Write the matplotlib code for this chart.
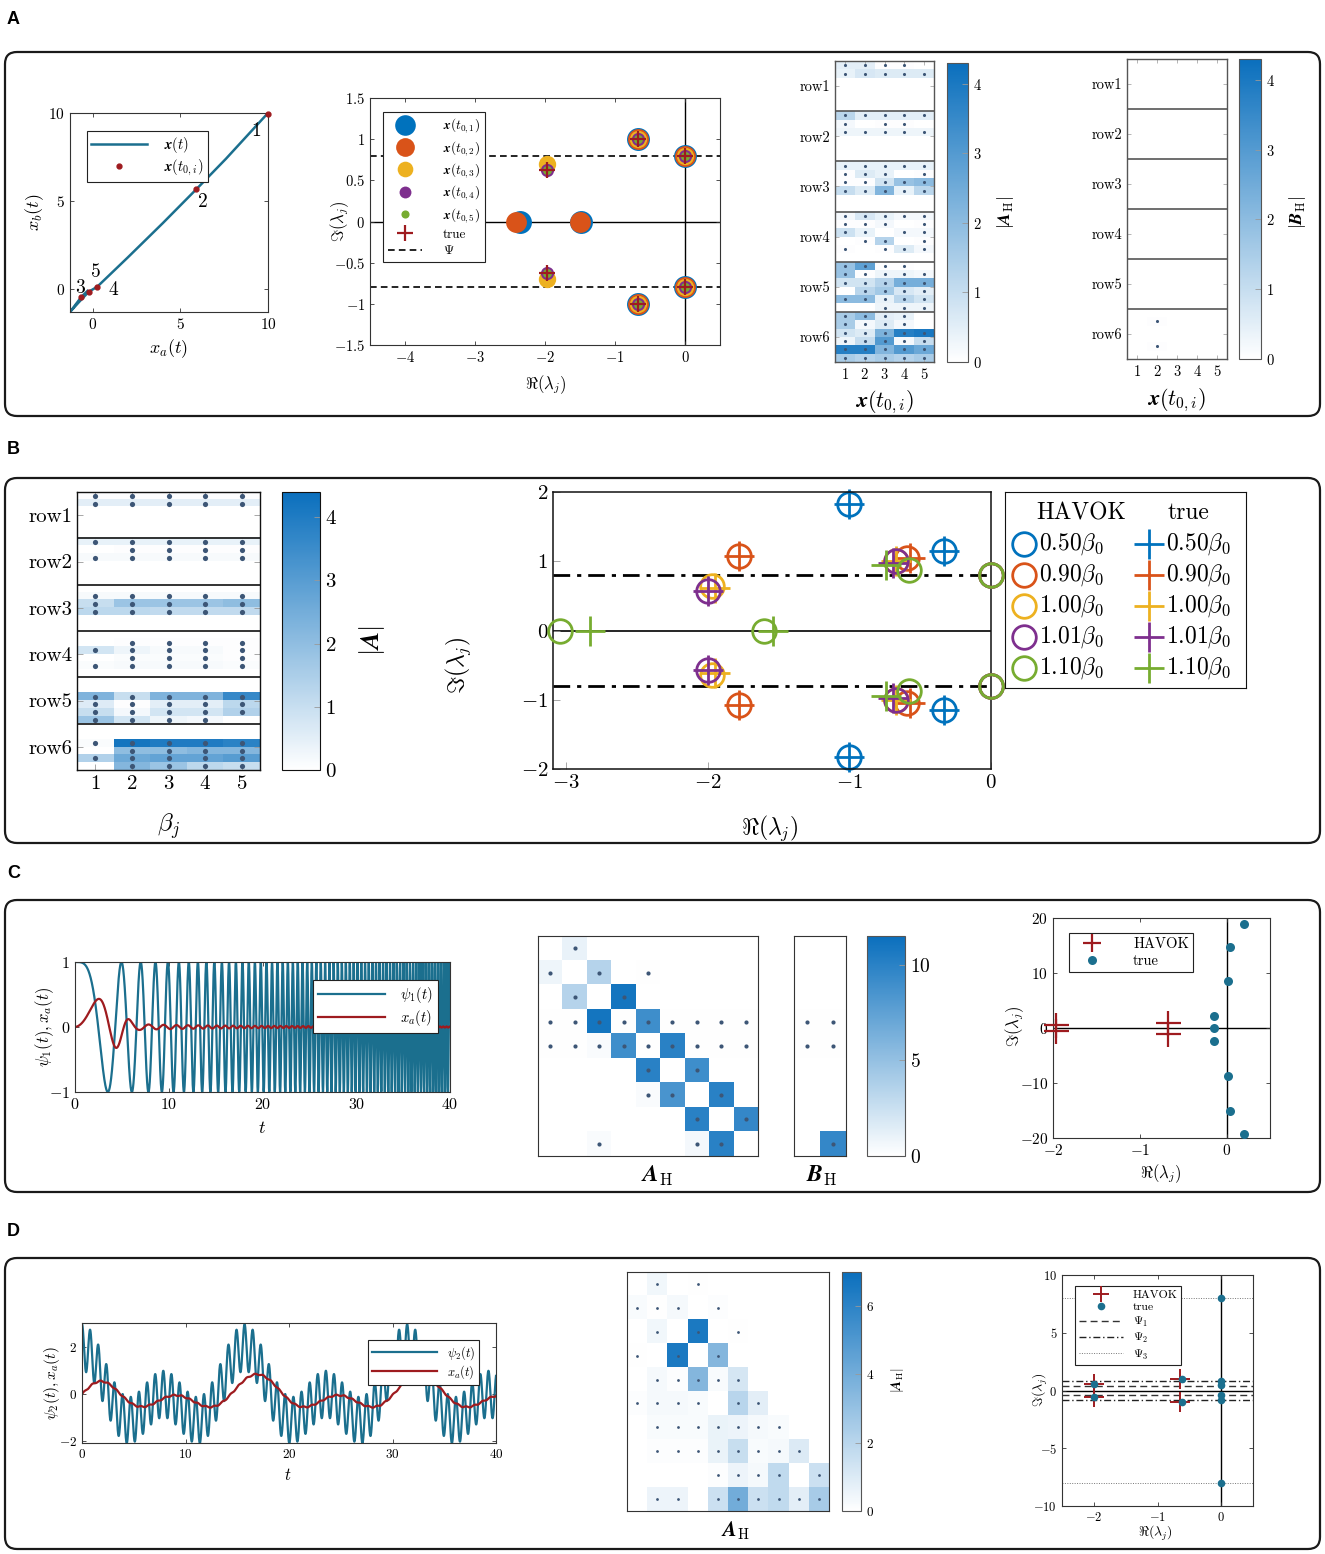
#!/usr/bin/env python3
"""HAVOK summary figure, panels A-D: phase plot, eigenvalues, |A_H| matrices, time series."""

import numpy as np
import matplotlib

matplotlib.use("Agg")
import matplotlib.pyplot as plt
from matplotlib.colors import LinearSegmentedColormap
from matplotlib.patches import FancyBboxPatch
from matplotlib.lines import Line2D

W, H, DPI = 1325, 1554, 100

plt.rcParams.update({
    "font.family": "serif",
    "font.serif": ["cmr10", "DejaVu Serif"],
    "mathtext.fontset": "cm",
    "axes.formatter.use_mathtext": True,
    "axes.unicode_minus": False,
    "axes.linewidth": 0.8,
    "axes.edgecolor": "#333333",
})

# MATLAB default line colours
BLUE, ORANGE, YELLOW, PURPLE, GREEN = "#0072BD", "#D95319", "#EDB120", "#7E2F8E", "#77AC30"
MCOLS = [BLUE, ORANGE, YELLOW, PURPLE, GREEN]
TEAL = "#1b6f8e"
DARKRED = "#9e1b1f"
DOT = "#3d5676"
CMAP = LinearSegmentedColormap.from_list("whiteblue", ["#ffffff", "#0a6fbd"])

# ---------------- data: panel A ----------------
TRAJ_XA = [10.0, 7.6, 5.9, 4.0, 2.0, 0.25, -0.23, -0.8, -1.3, -0.65, -0.3]
TRAJ_XB = [10.0, 7.4, 5.66, 3.75, 1.8, 0.13, -0.15, -0.75, -1.3, -0.44, -0.1]
T0_XA = [10.0, 5.89, -0.65, 0.25, -0.23]
T0_XB = [9.94, 5.66, -0.44, 0.13, -0.15]
T0_NAMES = ["1", "2", "3", "4", "5"]

# HAVOK eigenvalues for each initial condition x(t_{0,i}) (real, imag)
EIG_A_RE = [
    [-0.67, -0.67, 0.0, 0.0, -2.36, -1.48],
    [-0.67, -0.67, 0.0, 0.0, -2.42, -1.50],
    [-0.67, -0.67, 0.0, 0.0, -1.97, -1.97],
    [-0.67, -0.67, 0.0, 0.0, -1.97, -1.97],
    [-0.67, -0.67, 0.0, 0.0, -1.97, -1.97],
]
EIG_A_IM = [
    [1.0, -1.0, 0.8, -0.8, 0.0, 0.0],
    [1.0, -1.0, 0.8, -0.8, 0.0, 0.0],
    [1.0, -1.0, 0.8, -0.8, 0.70, -0.70],
    [1.0, -1.0, 0.8, -0.8, 0.63, -0.63],
    [1.0, -1.0, 0.8, -0.8, 0.63, -0.63],
]
EIG_A_MS = [16.5, 15.0, 12.5, 9.5, 6.5]
TRUE_A_RE = [-0.67, -0.67, 0.0, 0.0, -1.97, -1.97]
TRUE_A_IM = [1.0, -1.0, 0.8, -0.8, 0.63, -0.63]
PSI_A = 0.8

# |A_H| per initial condition: 6 groups (rows of A_H) x 6 sub-rows, 5 columns
AH_A = [
    # row1
    [0.5, 0.5, 0.05, 0.05, 0], [0.4, 0.7, 0.6, 0.6, 0.6], [0, 0, 0, 0, 0],
    [0, 0, 0, 0, 0], [0, 0, 0, 0, 0], [0, 0, 0, 0, 0],
    # row2
    [1.2, 0.5, 0.5, 0.5, 0.5], [0.2, 0, 0.05, 0.05, 0], [0.3, 0.3, 0.3, 0.3, 0.3],
    [0, 0, 0, 0, 0], [0, 0, 0, 0, 0], [0, 0, 0, 0, 0],
    # row3
    [0.4, 0.4, 0.4, 0.4, 0.4], [0.05, 0.6, 0.4, 0, 0.05], [0.05, 0.05, 0.8, 1.8, 2.0],
    [1.0, 0.6, 2.2, 0.4, 1.2], [0, 0, 0, 0, 0], [0, 0, 0, 0, 0],
    # row4
    [0.2, 0.7, 0.4, 0.2, 0.2], [0.05, 0.05, 0.2, 0, 0.05], [0.9, 0.4, 0, 0.2, 0.2],
    [0, 0.05, 1.3, 0, 0.05], [0.05, 0, 0.05, 0.6, 0.2], [0, 0, 0, 0, 0],
    # row5
    [1.8, 2.8, 0.05, 0.05, 0], [1.8, 0.05, 0.3, 0.3, 0.2], [0.8, 0.8, 1.3, 2.4, 2.4],
    [0, 1.2, 1.6, 0.7, 0.5], [2.0, 2.0, 0.4, 1.2, 0.8], [0, 0, 0.3, 0.3, 0.3],
    # row6
    [1.5, 2.0, 0.5, 0.4, 0], [1.5, 0.2, 0.6, 0.2, 0], [0.8, 0.6, 2.3, 3.8, 4.0],
    [0.3, 1.0, 3.0, 0.2, 1.0], [3.8, 3.8, 2.2, 3.0, 2.6], [1.5, 1.3, 1.5, 1.3, 1.5],
]
BH_A = [[0, 0, 0, 0, 0] for _ in range(36)]
BH_A[31][1] = 0.05
BH_A[34][1] = 0.05

# ---------------- data: panel B ----------------
A_B = [
    # row1
    [0.05] * 5, [0.5] * 5, [0] * 5, [0] * 5, [0] * 5, [0] * 5,
    # row2
    [0.4] * 5, [0, 0.05, 0.05, 0.05, 0.05], [0.15] * 5, [0] * 5, [0] * 5, [0] * 5,
    # row3
    [0] * 5, [0.15] * 5, [1.0, 1.8, 1.8, 1.8, 2.0], [1.2, 1.2, 1.1, 1.1, 1.1], [0] * 5, [0] * 5,
    # row4
    [0] * 5, [0, 0.05, 0.05, 0.05, 0.05], [0.8, 0.3, 0.15, 0.15, 0.05],
    [0, 0.1, 0.1, 0.1, 0.05], [0.1, 0.15, 0.15, 0.15, 0.1], [0] * 5,
    # row5
    [0] * 5, [0] * 5, [2.3, 1.0, 2.3, 2.3, 3.6], [0.6, 0.05, 0.5, 0.5, 1.2],
    [1.0, 0.2, 0.8, 0.8, 1.4], [1.8, 0.8, 0.3, 0.2, 0],
    # row6
    [0] * 5, [0] * 5, [0.1, 4.2, 4.0, 4.0, 3.8], [0, 2.0, 2.0, 2.2, 2.2],
    [1.4, 2.6, 2.8, 2.8, 3.0], [0, 2.2, 1.8, 1.2, 1.0],
]
BETA_LABELS = ["0.50", "0.90", "1.00", "1.01", "1.10"]
HAVOK_B_RE = [
    [-1.0, -1.0, -0.33, -0.33, 0.0, 0.0],
    [-1.78, -1.78, -0.59, -0.59, 0.0, 0.0],
    [-1.97, -1.97, -0.67, -0.67, 0.0, 0.0],
    [-2.0, -2.0, -0.67, -0.67, 0.0, 0.0],
    [-3.04, -1.6, -0.58, -0.58, 0.0, 0.0],
]
HAVOK_B_IM = [
    [1.82, -1.82, 1.15, -1.15, 0.8, -0.8],
    [1.07, -1.07, 1.05, -1.05, 0.8, -0.8],
    [0.64, -0.64, 1.0, -1.0, 0.8, -0.8],
    [0.57, -0.57, 1.0, -1.0, 0.8, -0.8],
    [0.0, 0.0, 0.88, -0.88, 0.8, -0.8],
]
TRUE_B_RE = [
    [-1.0, -1.0, -0.33, -0.33],
    [-1.78, -1.78, -0.57, -0.57],
    [-1.95, -1.95, -0.67, -0.67],
    [-2.0, -2.0, -0.69, -0.69],
    [-2.83, -1.54, -0.74, -0.74],
]
TRUE_B_IM = [
    [1.82, -1.82, 1.15, -1.15],
    [1.07, -1.07, 1.04, -1.04],
    [0.62, -0.62, 1.0, -1.0],
    [0.57, -0.57, 0.98, -0.98],
    [0.0, 0.0, 0.95, -0.95],
]
PSI_B = 0.8

# ---------------- data: panel C ----------------
T = np.linspace(0, 40, 24001)
CHIRP_RATE = 0.256   # psi_1(t) = cos(rate * t^2)
AH_C = [
    [0, 1.0, 0, 0, 0, 0, 0, 0, 0],
    [0.8, 0, 3.5, 0, 0.05, 0, 0, 0, 0],
    [0, 3.5, 0, 11.0, 0, 0, 0, 0, 0],
    [0.05, 0.05, 11.0, 0.05, 9.0, 0.05, 0.05, 0.05, 0.05],
    [0.05, 0.05, 0.3, 9.0, 0.05, 10.0, 0.05, 0.05, 0.05],
    [0, 0, 0, 0, 10.0, 0, 9.0, 0, 0],
    [0, 0, 0, 0, 0.3, 8.5, 0, 10.0, 0],
    [0, 0, 0, 0, 0, 0, 10.0, 0, 9.5],
    [0, 0, 0.3, 0, 0, 0, 0.5, 10.0, 0],
]
BH_C = [[0, 0], [0, 0], [0, 0], [0.05, 0.05], [0.05, 0.05], [0, 0], [0, 0], [0, 0], [0, 9.5]]
HAVOK_C_RE = [-1.97, -1.97, -0.67, -0.67]
HAVOK_C_IM = [0.63, -0.63, 1.0, -1.0]
TRUE_C_RE = [0.2, 0.04, 0.02, -0.15, -0.15, -0.15, 0.02, 0.04, 0.2]
TRUE_C_IM = [18.9, 14.8, 8.5, 2.1, 0.0, -2.3, -8.7, -15.1, -19.2]

# ---------------- data: panel D ----------------
PSI2_FREQS = [0.4, 0.8, 8.0]      # psi_2 = sum cos(w t); also the Psi_1..3 lines
AH_D = [
    [0, 0.4, 0, 0.05, 0, 0, 0, 0, 0, 0],
    [0.2, 0.05, 0.3, 0, 0.1, 0, 0, 0, 0, 0],
    [0, 0.4, 0, 6.5, 0, 0.05, 0, 0, 0, 0],
    [0.05, 0, 6.5, 0, 3.5, 0, 0, 0, 0, 0],
    [0, 0.3, 0.1, 3.5, 0.2, 1.2, 0, 0, 0, 0],
    [0.1, 0.3, 0.3, 0.2, 0, 2.0, 0.8, 0, 0, 0],
    [0, 0.2, 0.2, 0.2, 0.6, 0.5, 0.3, 0.2, 0, 0],
    [0, 0.1, 0.1, 0.1, 0.6, 1.6, 0.2, 0.3, 1.0, 0],
    [0, 0, 0, 0, 0.1, 0.5, 0.3, 1.8, 0, 1.5],
    [0, 0.5, 0.5, 0, 1.5, 4.0, 1.5, 1.8, 0.8, 2.5],
]
HAVOK_D_RE = [-2.0, -2.0, -0.64, -0.64]
HAVOK_D_IM = [0.6, -0.6, 1.0, -1.0]
TRUE_D_RE = [-2.0, -2.0, -0.62, -0.62, 0.0, 0.0, 0.0, 0.0, 0.0, 0.0]
TRUE_D_IM = [0.6, -0.55, 1.0, -1.0, 8.0, 0.85, 0.45, -0.4, -0.8, -8.0]

PANEL_BOXES = [(5, 52, 1320, 416), (5, 478, 1320, 843), (5, 900, 1320, 1192), (5, 1258, 1320, 1549)]
LETTER_Y = [19, 450, 873, 1231]

fig = plt.figure(figsize=(W / DPI, H / DPI), dpi=DPI)
bg = fig.add_axes([0, 0, 1, 1])
bg.set_xlim(0, W)
bg.set_ylim(H, 0)
bg.axis("off")
for (x0, y0, x1, y1), letter, ly in zip(PANEL_BOXES, "ABCD", LETTER_Y):
    bg.add_patch(FancyBboxPatch((x0, y0), x1 - x0, y1 - y0, boxstyle="round,pad=0,rounding_size=12",
                                fc="none", ec="#1a1a1a", lw=1.6))
    bg.text(7, ly, letter, family="Liberation Sans", fontweight="bold", fontsize=13, va="center")


def pax(rect):
    x0, y0, x1, y1 = rect
    ax = fig.add_axes([x0 / W, 1 - y1 / H, (x1 - x0) / W, (y1 - y0) / H])
    ax._rect = rect
    return ax


def mt(v):
    return f"${v:g}$"


def place_label(ax, which, text, px, py, fs):
    x0, y0, x1, y1 = ax._rect
    cx, cy = (px - x0) / (x1 - x0), (y1 - py) / (y1 - y0)
    if which == "x":
        ax.set_xlabel(text, fontsize=fs)
        ax.xaxis.set_label_coords(cx, cy)
        ax.xaxis.label.set_va("center")
    else:
        ax.set_ylabel(text, fontsize=fs)
        ax.yaxis.set_label_coords(cx, cy)
        ax.yaxis.label.set_va("center")


def style(ax, fs, xt=None, yt=None, length=3):
    if xt is not None:
        ax.set_xticks(xt, [mt(v) for v in xt])
    if yt is not None:
        ax.set_yticks(yt, [mt(v) for v in yt])
    ax.tick_params(direction="in", top=True, right=True, length=length, width=0.6,
                   color="#333333", labelsize=fs)


def leg(ax, handles, x, y, fs, **kw):
    opts = dict(loc="upper left", bbox_to_anchor=(x / W, 1 - y / H), bbox_transform=fig.transFigure,
                fancybox=False, edgecolor="#222222", framealpha=1, fontsize=fs, borderaxespad=0)
    opts.update(kw)
    lg = ax.legend(handles=handles, **opts)
    lg.get_frame().set_linewidth(0.8)
    return lg


def grouped_matrix(ax, M, vmax, dot_s, fs, sep_color="#555555"):
    M = np.asarray(M, float)
    nr, nc = M.shape
    im = ax.imshow(M, cmap=CMAP, vmin=0, vmax=vmax, aspect="auto", interpolation="nearest",
                   extent=(0.5, nc + 0.5, nr, 0))
    r, c = np.nonzero(M)
    ax.scatter(c + 1, r + 0.5, s=dot_s, color=DOT, linewidths=0, zorder=3)
    for g in range(1, 6):
        ax.axhline(g * 6, color=sep_color, lw=1.2, zorder=4)
    ax.set_xlim(0.5, nc + 0.5)
    ax.set_ylim(nr, 0)
    ax.set_xticks(range(1, nc + 1), [mt(v) for v in range(1, nc + 1)])
    ax.set_yticks([g * 6 + 3 for g in range(6)], [f"row{g + 1}" for g in range(6)])
    ax.tick_params(direction="in", length=3, width=0.6, color="#aaaaaa", labelsize=fs, right=True, top=True)
    for s in ax.spines.values():
        s.set_color(sep_color)
        s.set_linewidth(1.0)
    return im


def plain_matrix(ax, M, vmax, dot_s):
    M = np.asarray(M, float)
    nr, nc = M.shape
    im = ax.imshow(M, cmap=CMAP, vmin=0, vmax=vmax, aspect="auto", interpolation="nearest",
                   extent=(0.5, nc + 0.5, nr + 0.5, 0.5))
    r, c = np.nonzero(M)
    ax.scatter(c + 1, r + 1, s=dot_s, color=DOT, linewidths=0, zorder=3)
    ax.set_xticks([])
    ax.set_yticks([])
    for s in ax.spines.values():
        s.set_color("#333333")
    return im


def cbar(im, rect, ticks, fs, edge="#555555"):
    cax = pax(rect)
    cb = fig.colorbar(im, cax=cax)
    cb.set_ticks(ticks, labels=[mt(v) for v in ticks])
    cb.outline.set_edgecolor(edge)
    cb.outline.set_linewidth(0.8)
    cax.tick_params(direction="in", length=4, width=0.6, color="#999999", labelsize=fs)
    return cax


# ======================= Panel A =======================
ax = pax((70, 113, 268, 312))
ax.plot(TRAJ_XA, TRAJ_XB, color=TEAL, lw=1.8)
ax.plot(T0_XA, T0_XB, "o", color=DARKRED, ms=3.5, ls="none", clip_on=False, zorder=4)
for (tx, ty), name in zip([(9.35, 9.0), (6.3, 4.95), (-0.74, 0.06), (1.16, -0.06), (0.17, 0.98)], T0_NAMES):
    ax.text(tx, ty, name, fontsize=14, ha="center", va="center")
ax.set_xlim(-1.3, 10)
ax.set_ylim(-1.3, 10)
style(ax, 11, [0, 5, 10], [0, 5, 10])
place_label(ax, "x", r"$x_a(t)$", 168, 349, 13)
place_label(ax, "y", r"$x_b(t)$", 35, 212, 13)
leg(ax, [Line2D([], [], color=TEAL, lw=1.8, label=r"$\boldsymbol{x}(t)$"),
         Line2D([], [], color=DARKRED, marker="o", ms=3.5, ls="none", label=r"$\boldsymbol{x}(t_{0,i})$")],
    87, 131, 10.5, handlelength=3.8, borderpad=0.3, labelspacing=0.15, handletextpad=1.2)

ax = pax((370, 98, 720, 345))
ax.axhline(0, color="k", lw=1.0, zorder=1)
ax.axvline(0, color="k", lw=1.0, zorder=1)
for sgn in (1, -1):
    ax.axhline(sgn * PSI_A, color="k", lw=1.2, ls=(0, (4, 2.5)), zorder=1)
handles = []
for i in range(5):
    ax.plot(EIG_A_RE[i], EIG_A_IM[i], "o", color=MCOLS[i], ms=EIG_A_MS[i], ls="none", mew=0, zorder=2 + i)
    handles.append(Line2D([], [], color=MCOLS[i], marker="o", ls="none", ms=EIG_A_MS[i] * 0.9, mew=0,
                          label=rf"$\boldsymbol{{x}}(t_{{0,{i + 1}}})$"))
ax.plot(TRUE_A_RE, TRUE_A_IM, "+", color=DARKRED, ms=11, mew=1.6, ls="none", zorder=9)
handles.append(Line2D([], [], color=DARKRED, marker="+", ls="none", ms=11, mew=1.6, label="true"))
handles.append(Line2D([], [], color="k", lw=1.2, ls=(0, (4, 2.5)), label=r"$\Psi$"))
ax.set_xlim(-4.5, 0.5)
ax.set_ylim(-1.5, 1.5)
style(ax, 10.5, [-4, -3, -2, -1, 0], [-1.5, -1, -0.5, 0, 0.5, 1, 1.5])
place_label(ax, "x", r"$\Re(\lambda_j)$", 545, 385, 12)
place_label(ax, "y", r"$\Im(\lambda_j)$", 340, 222, 12)
leg(ax, handles, 383, 112, 9.5, handlelength=2.6, borderpad=0.35, labelspacing=0.28, handletextpad=1.6)

ax = pax((835, 61, 934, 362))
im = grouped_matrix(ax, AH_A, 4.3, 5, 10.5)
place_label(ax, "x", r"$\boldsymbol{x}(t_{0,i})$", 884, 402, 16)
cax = cbar(im, (947, 63, 968, 362), [0, 1, 2, 3, 4], 10.5)
place_label(cax, "y", r"$|\boldsymbol{A}_{\rm H}|$", 1005, 212, 13)

ax = pax((1127, 59, 1227, 359))
im = grouped_matrix(ax, BH_A, 4.3, 5, 10.5)
place_label(ax, "x", r"$\boldsymbol{x}(t_{0,i})$", 1176, 400, 16)
cax = cbar(im, (1239, 59, 1261, 359), [0, 1, 2, 3, 4], 10.5)
place_label(cax, "y", r"$|\boldsymbol{B}_{\rm H}|$", 1298, 212, 13)

# ======================= Panel B =======================
ax = pax((77, 492, 260, 770))
im = grouped_matrix(ax, A_B, 4.4, 14, 15, sep_color="#111111")
ax.tick_params(color="#999999", length=4)
place_label(ax, "x", r"$\beta_j$", 168, 826, 18)
cax = cbar(im, (282, 492, 320, 770), [0, 1, 2, 3, 4], 15, edge="#111111")
place_label(cax, "y", r"$|\boldsymbol{A}|$", 372, 640, 19)

ax = pax((553, 492, 991, 769))
ax.axhline(0, color="k", lw=1.2, zorder=1)
for sgn in (1, -1):
    ax.axhline(sgn * PSI_B, color="k", lw=2.0, ls=(0, (6, 2.5, 1.5, 2.5)), zorder=1)
for i in range(5):
    ax.plot(HAVOK_B_RE[i], HAVOK_B_IM[i], "o", mfc="none", mec=MCOLS[i], ms=17, mew=2, ls="none",
            clip_on=False, zorder=2 + i)
    ax.plot(TRUE_B_RE[i], TRUE_B_IM[i], "+", color=MCOLS[i], ms=22, mew=2, ls="none",
            clip_on=False, zorder=2 + i)
ax.set_xlim(-3.09, 0)
ax.set_ylim(-2, 2)
style(ax, 15, [-3, -2, -1, 0], [-2, -1, 0, 1, 2], length=5)
ax.tick_params(color="#999999", top=False, right=False)
for s in ax.spines.values():
    s.set_color("#111111")
    s.set_linewidth(1.1)
place_label(ax, "x", r"$\Re(\lambda_j)$", 770, 828, 17)
place_label(ax, "y", r"$\Im(\lambda_j)$", 458, 665, 17)

lax = pax((1005, 492, 1246, 688))
lax.set_xlim(0, 241)
lax.set_ylim(196, 0)
lax.set_xticks([])
lax.set_yticks([])
for s in lax.spines.values():
    s.set_color("#111111")
lax.text(76, 21, "HAVOK", fontsize=17, ha="center", va="center")
lax.text(183, 21, "true", fontsize=17, ha="center", va="center")
for i, lab in enumerate(BETA_LABELS):
    yy = 52 + 31 * i
    lax.plot([19], [yy], "o", mfc="none", mec=MCOLS[i], ms=17, mew=2)
    lax.text(34, yy, rf"${lab}\beta_0$", fontsize=17, va="center")
    lax.plot([144], [yy], "+", color=MCOLS[i], ms=22, mew=2)
    lax.text(161, yy, rf"${lab}\beta_0$", fontsize=17, va="center")

# ======================= Panel C =======================
psi1 = np.cos(CHIRP_RATE * T ** 2)
env1 = 0.38 * np.exp(-(T / 5.3) ** 6) + 0.35 * T / (T ** 2 + 9)
xa1 = env1 * np.sin(0.224 * T ** 2 + 0.04 * T)
ax = pax((75, 962, 450, 1092))
ax.plot(T, psi1, color=TEAL, lw=1.6)
ax.plot(T, xa1, color=DARKRED, lw=1.6)
ax.set_xlim(0, 40)
ax.set_ylim(-1, 1)
style(ax, 11.5, [0, 10, 20, 30, 40], [-1, 0, 1])
place_label(ax, "x", r"$t$", 262, 1128, 13)
place_label(ax, "y", r"$\psi_1(t), x_a(t)$", 45, 1027, 12)
leg(ax, [Line2D([], [], color=TEAL, lw=1.6, label=r"$\psi_1(t)$"),
         Line2D([], [], color=DARKRED, lw=1.6, label=r"$x_a(t)$")],
    313, 980, 10.5, handlelength=4.6, borderpad=0.35, labelspacing=0.2, handletextpad=1.0)

ax = pax((538, 936, 758, 1156))
im = plain_matrix(ax, AH_C, 11.5, 9)
place_label(ax, "x", r"$\boldsymbol{A}_{\rm H}$", 657, 1176, 17)
ax = pax((794, 936, 846, 1156))
plain_matrix(ax, BH_C, 11.5, 9)
place_label(ax, "x", r"$\boldsymbol{B}_{\rm H}$", 822, 1176, 17)
cbar(im, (867, 936, 905, 1156), [0, 5, 10], 14)

ax = pax((1053, 918, 1270, 1138))
ax.axhline(0, color="k", lw=1.0, zorder=1)
ax.axvline(0, color="k", lw=1.0, zorder=1)
ax.plot(HAVOK_C_RE, HAVOK_C_IM, "+", color=DARKRED, ms=18, mew=1.6, ls="none", clip_on=False, zorder=3)
ax.plot(TRUE_C_RE, TRUE_C_IM, "o", color=TEAL, ms=6.5, mew=0, ls="none", clip_on=False, zorder=4)
ax.set_xlim(-2, 0.5)
ax.set_ylim(-20, 20)
style(ax, 11, [-2, -1, 0], [-20, -10, 0, 10, 20])
place_label(ax, "x", r"$\Re(\lambda_j)$", 1160, 1174, 12)
place_label(ax, "y", r"$\Im(\lambda_j)$", 1015, 1027, 12)
leg(ax, [Line2D([], [], color=DARKRED, marker="+", ms=13, mew=1.6, ls="none", label="HAVOK"),
         Line2D([], [], color=TEAL, marker="o", ms=6.5, mew=0, ls="none", label="true")],
    1069, 933, 10.5, handlelength=2.5, borderpad=0.3, labelspacing=0.2, handletextpad=1.6)

# ======================= Panel D =======================
psi2 = sum(np.cos(w * T) for w in PSI2_FREQS)
slow = np.cos(PSI2_FREQS[0] * (T - 1.2)) + np.cos(PSI2_FREQS[1] * (T - 1.2))
xa2 = (1 - np.exp(-T / 1.5)) * (0.45 * slow - 0.05) + 0.03 * np.sin(PSI2_FREQS[2] * T)
ax = pax((82, 1323, 496, 1443))
ax.plot(T, psi2, color=TEAL, lw=1.6)
ax.plot(T, xa2, color=DARKRED, lw=1.6)
ax.set_xlim(0, 40)
ax.set_ylim(-2.1, 3.05)
style(ax, 9.5, [0, 10, 20, 30, 40], [-2, 0, 2])
place_label(ax, "x", r"$t$", 288, 1475, 12)
place_label(ax, "y", r"$\psi_2(t), x_a(t)$", 52, 1383, 11)
leg(ax, [Line2D([], [], color=TEAL, lw=1.6, label=r"$\psi_2(t)$"),
         Line2D([], [], color=DARKRED, lw=1.6, label=r"$x_a(t)$")],
    368, 1340, 9, handlelength=5.2, borderpad=0.3, labelspacing=0.15, handletextpad=0.8)

ax = pax((627, 1272, 829, 1511))
im = plain_matrix(ax, AH_D, 7.0, 4)
place_label(ax, "x", r"$\boldsymbol{A}_{\rm H}$", 735, 1531, 15)
cax = cbar(im, (842, 1272, 861, 1511), [0, 2, 4, 6], 9.5)
place_label(cax, "y", r"$|\boldsymbol{A}_{\rm H}|$", 897, 1380, 10)

ax = pax((1062, 1275, 1253, 1506))
ax.axhline(0, color="k", lw=1.0, zorder=1)
ax.axvline(0, color="k", lw=1.0, zorder=1)
psi_styles = [(0, (5, 3)), (0, (5, 2, 1, 2)), (0, (1, 1.5))]
psi_lw = [1.0, 1.0, 0.7]
psi_col = ["#333333", "#222222", "#777777"]
for w, ls_, lw_, c_ in zip(PSI2_FREQS, psi_styles, psi_lw, psi_col):
    for sgn in (1, -1):
        ax.axhline(sgn * w, color=c_, lw=lw_, ls=ls_, zorder=1)
ax.plot(HAVOK_D_RE, HAVOK_D_IM, "+", color=DARKRED, ms=14, mew=1.4, ls="none", zorder=3)
ax.plot(TRUE_D_RE, TRUE_D_IM, "o", color=TEAL, ms=5.5, mew=0, ls="none", clip_on=False, zorder=4)
ax.set_xlim(-2.5, 0.5)
ax.set_ylim(-10, 10)
style(ax, 9, [-2, -1, 0], [-10, -5, 0, 5, 10])
place_label(ax, "x", r"$\Re(\lambda_j)$", 1155, 1533, 10)
place_label(ax, "y", r"$\Im(\lambda_j)$", 1040, 1390, 10)
leg(ax, [Line2D([], [], color=DARKRED, marker="+", ms=11, mew=1.4, ls="none", label="HAVOK"),
         Line2D([], [], color=TEAL, marker="o", ms=5.5, mew=0, ls="none", label="true"),
         Line2D([], [], color=psi_col[0], lw=1.0, ls=psi_styles[0], label=r"$\Psi_1$"),
         Line2D([], [], color=psi_col[1], lw=1.0, ls=psi_styles[1], label=r"$\Psi_2$"),
         Line2D([], [], color=psi_col[2], lw=0.7, ls=psi_styles[2], label=r"$\Psi_3$")],
    1075, 1286, 8.5, handlelength=3.8, borderpad=0.3, labelspacing=0.2, handletextpad=0.8)

fig.savefig("out.png", dpi=DPI, facecolor="white")
